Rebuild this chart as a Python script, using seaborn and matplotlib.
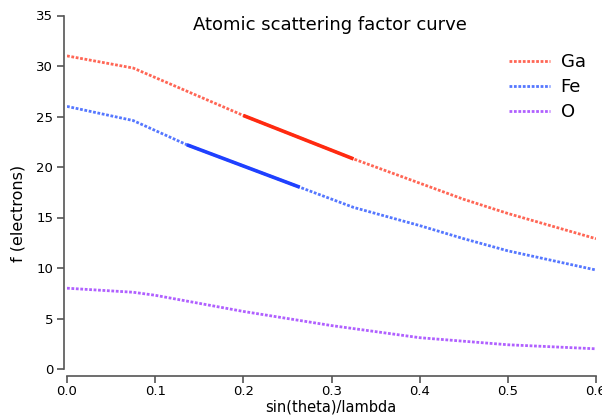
import matplotlib
matplotlib.use("Agg")
import matplotlib.pyplot as plt
import seaborn as sns

#%% Data

s_ga = [0.0, 0.075, 0.2, 0.325, 0.4, 0.45, 0.5, 0.6]
f_ga = [31.0, 29.8, 25.1, 20.8, 18.4, 16.8, 15.4, 12.9]

s_fe = [0.0, 0.075, 0.136, 0.2, 0.264, 0.325, 0.4, 0.45, 0.5, 0.6]
f_fe = [26.0, 24.6, 22.2, 20.1, 18.0, 16.0, 14.2, 12.9, 11.7, 9.8]

s_o = [0.0, 0.075, 0.1, 0.2, 0.3, 0.4, 0.5, 0.6]
f_o = [8.0, 7.6, 7.3, 5.7, 4.3, 3.1, 2.4, 2.0]

# highlighted stretches
s_ga_hi = [0.2, 0.325]
f_ga_hi = [25.1, 20.8]
s_fe_hi = [0.136, 0.2, 0.264]
f_fe_hi = [22.2, 20.1, 18.0]

x_ticks = [0.0, 0.1, 0.2, 0.3, 0.4, 0.5, 0.6]
x_tick_labels = ["0.0", "0.1", "0.2", "0.3", "0.4", "0.5", "0.6"]
y_ticks = [0, 5, 10, 15, 20, 25, 30, 35]

#%% Plot

sns.set_theme(style="ticks")
plt.rcParams['font.family'] = ['DejaVu Sans']
plt.rcParams['text.color'] = 'black'

fig = plt.figure(figsize=(6.02, 4.17), dpi=100)
ax = fig.add_axes([67/602, 48/417, 529/602, 353.5/417])

dot = (0, (1, 0.6))
sns.lineplot(x=s_ga, y=f_ga, ax=ax, color="#ff6655", lw=2, linestyle=dot, label="Ga")
sns.lineplot(x=s_fe, y=f_fe, ax=ax, color="#5577ff", lw=2, linestyle=dot, label="Fe")
sns.lineplot(x=s_o, y=f_o, ax=ax, color="#b060ff", lw=2, linestyle=dot, label="O")
ax.plot(s_ga_hi, f_ga_hi, color="#ff2a10", lw=2.6, solid_capstyle="butt")
ax.plot(s_fe_hi, f_fe_hi, color="#1f40ff", lw=2.6, solid_capstyle="butt")

ax.set_xlim(0, 0.6)
ax.set_ylim(0, 35)
ax.set_xticks(x_ticks)
ax.set_xticklabels(x_tick_labels)
ax.set_yticks(y_ticks)

sns.despine(ax=ax)
ax.spines['left'].set_position(('outward', 2))
ax.spines['bottom'].set_position(('outward', 5))
for sp in ['left', 'bottom']:
    ax.spines[sp].set_color("#555555")
    ax.spines[sp].set_linewidth(1.2)
ax.tick_params(axis='both', direction='out', length=5, width=1.2,
               color="#555555", labelsize=9.5, labelcolor="black", pad=3)
ax.tick_params(axis='x', pad=1.5)

ax.text(0.497, 0.973, "Atomic scattering factor curve", transform=ax.transAxes,
        ha="center", va="center", fontsize=13)

fig.text(331/602, 1 - 407/417, "sin(theta)/lambda", ha="center", va="center", fontsize=10.5)
fig.text(18/602, 1 - 213/417, "f (electrons)", ha="center", va="center",
         rotation=90, fontsize=11.5)

leg = ax.legend(loc="upper right", bbox_to_anchor=(1.011, 0.94), frameon=False,
                fontsize=13, handlelength=2.25, labelspacing=0.4, handletextpad=0.6)

fig.savefig("out.png", dpi=100)
